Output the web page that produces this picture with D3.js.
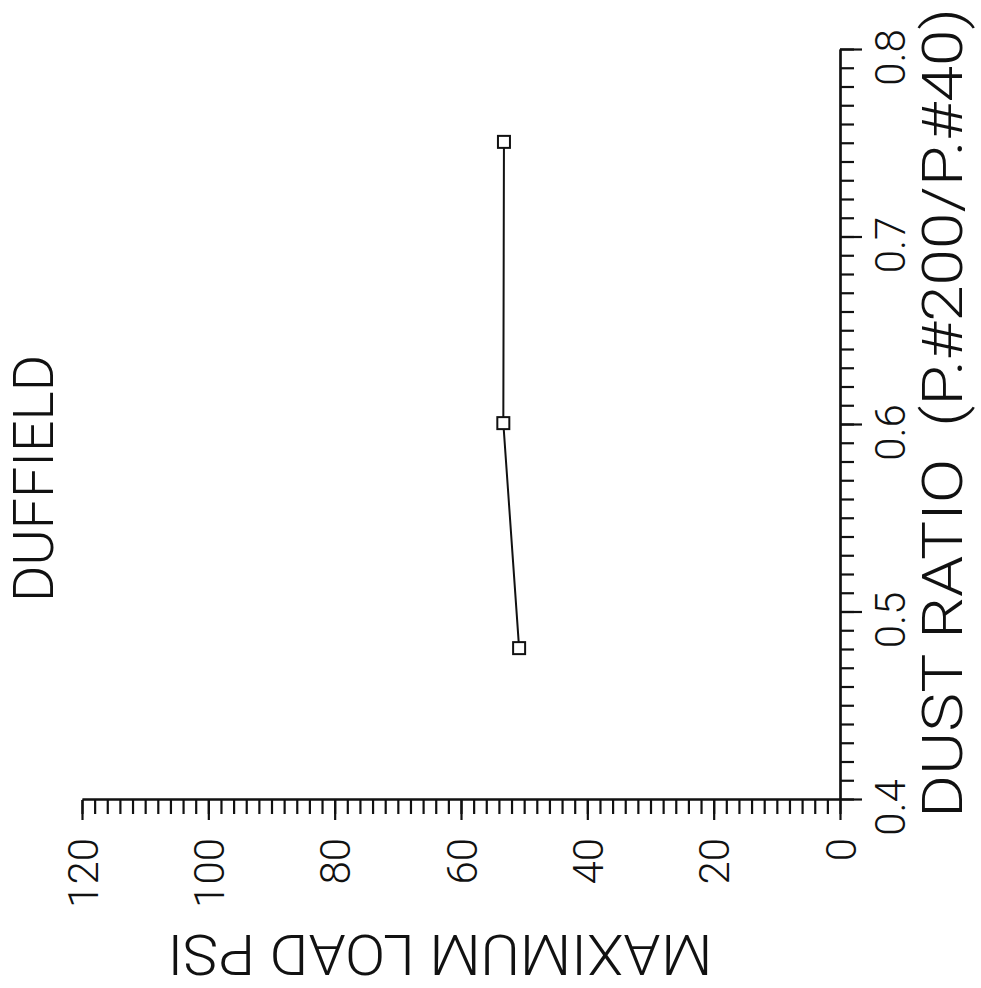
<!DOCTYPE html>
<html>
<head>
<meta charset="utf-8">
<script src="https://cdn.jsdelivr.net/npm/d3@7/dist/d3.min.js"></script>
<style>
  html, body { margin: 0; padding: 0; background: #fff; }
  svg { display: block; }
  text { font-family: Roboto, "Liberation Sans", sans-serif; font-weight: 300; fill: #111; }
</style>
</head>
<body>
<script>
// ---- data ----
const title = "DUFFIELD";
const xTitle = "DUST RATIO  (P.#200/P.#40)";
const yTitle = "MAXIMUM LOAD PSI";
const dustRatio = [0.481, 0.601, 0.751];
const maxLoad = [50.8, 53.3, 53.2];
const xTicks = [0.4, 0.5, 0.6, 0.7, 0.8];
const xTickLabels = ["0.4", "0.5", "0.6", "0.7", "0.8"];
const yTicks = [0, 20, 40, 60, 80, 100, 120];
const yTickLabels = ["0", "20", "40", "60", "80", "100", "120"];

const W = 981, H = 988;
const svg = d3.select("body").append("svg").attr("width", W).attr("height", H);
svg.append("rect").attr("width", W).attr("height", H).attr("fill", "#fff");

// whole chart is drawn rotated 90deg counter-clockwise
const g = svg.append("g").attr("transform", `translate(0,${H}) rotate(-90)`);

const x = d3.scaleLinear().domain([0.4, 0.8]).range([188, 938]);
const y = d3.scaleLinear().domain([0, 120]).range([840, 82]);

const ink = "#111";

// x axis (dust ratio)
const xMinor = d3.range(0, 41).map(i => 0.4 + i * 0.01);
const gxMinor = g.append("g").attr("transform", "translate(0,840)")
  .call(d3.axisBottom(x).tickValues(xMinor).tickSize(14).tickSizeOuter(0).tickFormat(""));
const gx = g.append("g").attr("transform", "translate(0,840)")
  .call(d3.axisBottom(x).tickValues(xTicks).tickSize(22).tickSizeOuter(0)
    .tickFormat((d, i) => xTickLabels[i]));
gx.selectAll("text").attr("y", 65).attr("dy", 0).attr("dx", -8)
  .style("font-size", "42px");

// y axis (max load)
const yMinor = d3.range(0, 61).map(i => i * 2);
g.append("g").attr("transform", "translate(188,0)")
  .call(d3.axisLeft(y).tickValues(yMinor).tickSize(14).tickSizeOuter(0).tickFormat(""));
const gy = g.append("g").attr("transform", "translate(188,0)")
  .call(d3.axisLeft(y).tickValues(yTicks).tickSize(20).tickSizeOuter(0)
    .tickFormat((d, i) => yTickLabels[i]));
gy.selectAll("text").attr("x", -38).attr("dy", "0.36em").style("font-size", "42px");

g.selectAll(".domain, .tick line").attr("stroke", ink).attr("stroke-width", 2.2);

// data line + markers
const pts = dustRatio.map((d, i) => [d, maxLoad[i]]);
g.append("path").datum(pts)
  .attr("fill", "none").attr("stroke", ink).attr("stroke-width", 2)
  .attr("d", d3.line().x(d => x(d[0])).y(d => y(d[1])));
g.selectAll("rect.mk").data(pts).enter().append("rect").attr("class", "mk")
  .attr("x", d => x(d[0]) - 6).attr("y", d => y(d[1]) - 6)
  .attr("width", 12).attr("height", 12)
  .attr("fill", "#fff").attr("stroke", ink).attr("stroke-width", 2);

// titles
g.append("text").attr("x", 386).attr("y", 53)
  .attr("textLength", 247).attr("lengthAdjust", "spacingAndGlyphs")
  .style("font-size", "56px").text(title);

g.append("text").attr("x", 170).attr("y", 962)
  .attr("textLength", 810).attr("lengthAdjust", "spacingAndGlyphs")
  .style("font-size", "56px").style("white-space", "pre").text(xTitle);

g.append("text").attr("transform", "translate(53,440) rotate(-90)")
  .attr("text-anchor", "middle")
  .attr("textLength", 545).attr("lengthAdjust", "spacingAndGlyphs")
  .style("font-size", "56px").text(yTitle);
</script>
</body>
</html>
